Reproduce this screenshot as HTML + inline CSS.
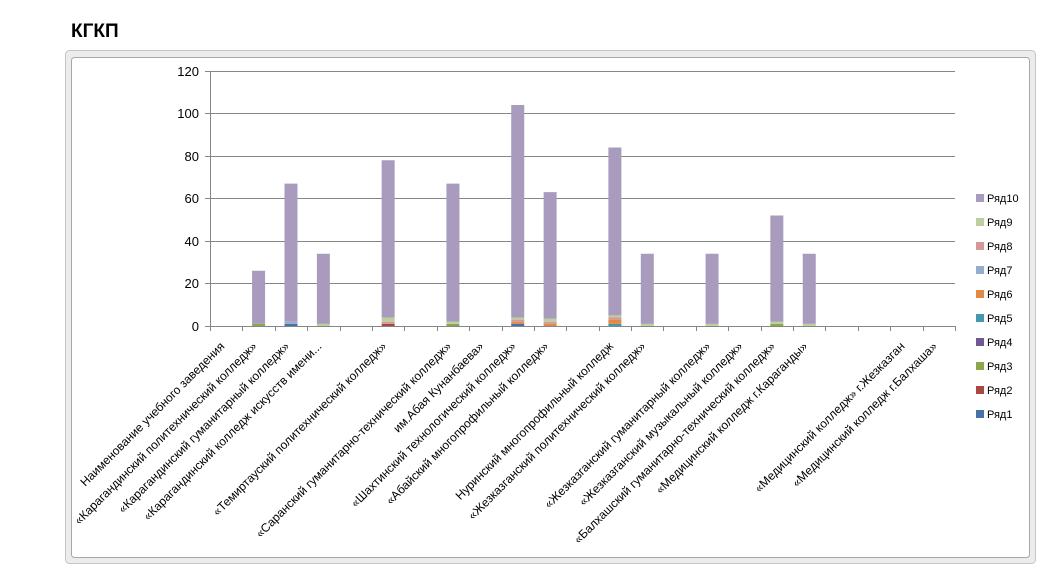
<!DOCTYPE html>
<html><head><meta charset="utf-8"><style>
body{margin:0;background:#fff;width:1051px;height:577px;overflow:hidden;font-family:"Liberation Sans",sans-serif}
</style></head><body>
<svg width="1051" height="577" xmlns="http://www.w3.org/2000/svg" font-family="Liberation Sans, sans-serif">
<text x="71" y="37" font-size="19" font-weight="bold" fill="#000">КГКП</text>
<rect x="65.5" y="50.5" width="970" height="513" rx="4" fill="#ececec" stroke="#c4c4c4" stroke-width="1"/>
<rect x="71.5" y="57.5" width="958" height="500" rx="3" fill="#fff" stroke="#a8a8a8"/>
<g stroke="#868686" stroke-width="1">
<line x1="205" y1="71.5" x2="955" y2="71.5"/>
<line x1="205" y1="113.5" x2="955" y2="113.5"/>
<line x1="205" y1="156.5" x2="955" y2="156.5"/>
<line x1="205" y1="198.5" x2="955" y2="198.5"/>
<line x1="205" y1="241.5" x2="955" y2="241.5"/>
<line x1="205" y1="283.5" x2="955" y2="283.5"/>
<line x1="205" y1="326.5" x2="955" y2="326.5"/>
<line x1="210.5" y1="71" x2="210.5" y2="326"/>
</g>
<g font-size="13" fill="#000" text-anchor="end">
<text x="199" y="76">120</text><text x="199" y="118">100</text><text x="199" y="161">80</text>
<text x="199" y="203">60</text><text x="199" y="246">40</text><text x="199" y="288">20</text><text x="199" y="331">0</text>
</g>
<g id="ticks" stroke="#868686"></g>
<g id="bars"></g>
<g id="labels" font-size="12" fill="#000" text-anchor="end"></g>
<g font-size="11" fill="#000">
<rect x="976" y="194" width="8" height="8" fill="#a99bbd"/><text x="987" y="202">Ряд10</text>
<rect x="976" y="218" width="8" height="8" fill="#bbd09a"/><text x="987" y="226">Ряд9</text>
<rect x="976" y="242" width="8" height="8" fill="#d59897"/><text x="987" y="250">Ряд8</text>
<rect x="976" y="266" width="8" height="8" fill="#95abd1"/><text x="987" y="274">Ряд7</text>
<rect x="976" y="290" width="8" height="8" fill="#e28a43"/><text x="987" y="298">Ряд6</text>
<rect x="976" y="314" width="8" height="8" fill="#4198af"/><text x="987" y="322">Ряд5</text>
<rect x="976" y="338" width="8" height="8" fill="#705993"/><text x="987" y="346">Ряд4</text>
<rect x="976" y="362" width="8" height="8" fill="#8ba74b"/><text x="987" y="370">Ряд3</text>
<rect x="976" y="386" width="8" height="8" fill="#aa4644"/><text x="987" y="394">Ряд2</text>
<rect x="976" y="410" width="8" height="8" fill="#4572a7"/><text x="987" y="418">Ряд1</text>
</g>
</svg>
<script>
const ns="http://www.w3.org/2000/svg";
const labels=["Наименование учебного заведения","«Карагандинский политехнический  колледж»","«Карагандинский гуманитарный колледж»","«Карагандинский колледж искусств имени...","","«Темиртауский политехнический колледж»","","«Саранский гуманитарно-технический  колледж»","им.Абая Кунанбаева»","«Шахтинский технологический  колледж»","«Абайский многопрофильный колледж»","","Нуринский многопрофильный колледж","«Жезказганский политехнический  колледж»","","«Жезказганский гуманитарный колледж»","«Жезказганский музыкальный колледж»","«Балхашский гуманитарно-технический  колледж»","«Медицинский  колледж г.Караганды»","","","«Медицинский  колледж» г.Жезказган","«Медицинский  колледж г.Балхаша»"];
const vals=[0,26,67,34,0,78,0,67,0,104,63,0,84,34,0,34,0,52,34,0,0,0,0];
const low=[null,[[1,"#8ba74b"]],[[1,"#4572a7"],[1,"#95abd1"]],[[1,"#bbd09a"]],null,[[1,"#aa4644"],[1,"#d59897"],[2,"#bbd09a"]],null,[[1,"#8ba74b"],[1,"#bbd09a"]],null,[[1,"#4572a7"],[1,"#e28a43"],[1,"#d59897"],[1,"#bbd09a"]],[[1,"#e28a43"],[1,"#d59897"],[1.5,"#bbd09a"]],null,[[1,"#4198af"],[2,"#e28a43"],[1,"#d59897"],[1,"#bbd09a"]],[[1,"#bbd09a"]],null,[[1,"#bbd09a"]],null,[[1,"#8ba74b"],[1,"#bbd09a"]],[[1,"#bbd09a"]],null,null,null,null];
const sp=745/23,k=255/120;
const T=document.getElementById("ticks"),B=document.getElementById("bars"),L=document.getElementById("labels");
for(let i=0;i<=23;i++){const x=Math.round(210+sp*i)+.5;const l=document.createElementNS(ns,"line");l.setAttribute("x1",x);l.setAttribute("x2",x);l.setAttribute("y1",326);l.setAttribute("y2",331);T.appendChild(l);}
for(let i=0;i<23;i++){const x0=210+sp*i+9.7;let y=326;
 if(low[i])for(const [v,c] of low[i]){const h=v*k;const r=document.createElementNS(ns,"rect");r.setAttribute("x",x0);r.setAttribute("width",13);r.setAttribute("y",y-h);r.setAttribute("height",h);r.setAttribute("fill",c);B.appendChild(r);y-=h;}
 if(vals[i]){const h=vals[i]*k-(326-y);const r=document.createElementNS(ns,"rect");r.setAttribute("x",x0);r.setAttribute("width",13);r.setAttribute("y",326-vals[i]*k);r.setAttribute("height",h);r.setAttribute("fill","#a99bbd");B.appendChild(r);}
 if(labels[i]){const cx=210+sp*(i+.5)-1;const t=document.createElementNS(ns,"text");t.setAttribute("transform",`translate(${cx},347) rotate(-45)`);t.textContent=labels[i];L.appendChild(t);}
}
</script>
</body></html>
